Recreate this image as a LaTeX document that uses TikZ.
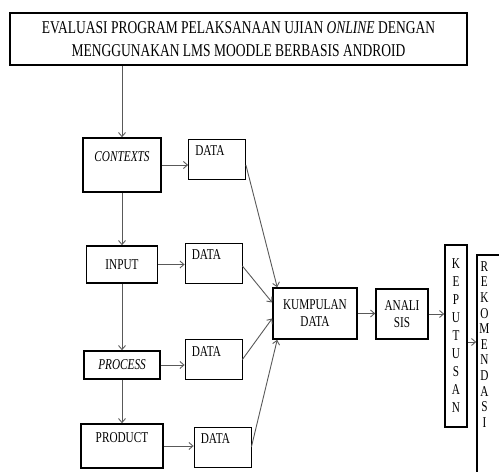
\documentclass[tikz,border=0pt]{standalone}
\usepackage{fontspec}
\setmainfont[FakeStretch=0.75]{Liberation Serif}
\usetikzlibrary{arrows.meta}

\begin{document}
\begin{tikzpicture}[x=1pt,y=-1pt,
    every node/.style={font=\fontsize{15}{17}\selectfont},
    mainbox/.style={draw,line width=1.6pt,inner sep=0pt},
    databox/.style={draw,line width=0.8pt,minimum width=57,minimum height=40,inner sep=0pt,
      label={[anchor=north west,inner sep=0pt,xshift=7,yshift=-7]north west:DATA}},
    arr/.style={draw=black!65,line width=0.9pt,-{Straight Barb[length=4pt,width=7pt]}}]
  \useasboundingbox (0,0) rectangle (499,472);
  \clip (0,0) rectangle (499,472);

  % judul
  \node[mainbox,minimum width=457,minimum height=52,align=center,font=\fontsize{18}{23}\selectfont] (judul) at (238.5,39)
    {EVALUASI PROGRAM PELAKSANAAN UJIAN \textit{ONLINE} DENGAN\\MENGGUNAKAN LMS MOODLE BERBASIS ANDROID};

  % komponen CIPP
  \node[mainbox,minimum width=78,minimum height=54,label={[anchor=north,inner sep=0pt,yshift=-14]north:\textit{CONTEXTS}}] (contexts) at (122,165) {};
  \node[mainbox,minimum width=71,minimum height=37] (input) at (122,264.5) {INPUT};
  \node[mainbox,minimum width=76,minimum height=28] (process) at (122,365) {\textit{PROCESS}};
  \node[mainbox,minimum width=82,minimum height=44,label={[anchor=north,inner sep=0pt,yshift=-9]north:PRODUCT}] (product) at (122,446) {};

  % data
  \node[databox] (data1) at (217,159) {};
  \node[databox] (data2) at (213.5,263) {};
  \node[databox] (data3) at (213.5,359.5) {};
  \node[databox] (data4) at (222.5,447) {};

  % analisis
  \node[mainbox,minimum width=84,minimum height=51,align=center] (kumpulan) at (315,313.5) {KUMPULAN\\DATA};
  \node[mainbox,minimum width=52,minimum height=50,align=center] (analisis) at (402,314) {ANALI\\SIS};
  \node[mainbox,minimum width=22,minimum height=182,align=center,font=\fontsize{15}{18}\selectfont] (keputusan) at (456,336)
    {K\\E\\P\\U\\T\\U\\S\\A\\N};
  \node[mainbox,minimum width=43,minimum height=265,
    label={[anchor=north west,inner sep=0pt,xshift=3,yshift=-7,align=center,font=\fontsize{15}{15.6}\selectfont]north west:R\\E\\K\\O\\M\\E\\N\\D\\A\\S\\I}] (rekomendasi) at (498.5,387.5) {};

  % panah
  \draw[arr] (judul.south -| contexts.north) -- (contexts.north);
  \draw[arr] (contexts.south) -- (input.north);
  \draw[arr] (input.south) -- (process.north);
  \draw[arr] (process.south) -- (product.north);

  \draw[arr] (contexts.east) -- (contexts.east -| data1.west);
  \draw[arr] (input.east) -- (input.east -| data2.west);
  \draw[arr] (process.east) -- (process.east -| data3.west);
  \draw[arr] (product.east) -- (product.east -| data4.west);

  \draw[arr] ([yshift=-6]data1.east) -- ([xshift=5]kumpulan.north west);
  \draw[arr] ([yshift=-3]data2.east) -- ([yshift=11]kumpulan.west);
  \draw[arr] (data3.east) -- ([yshift=-5]kumpulan.west);
  \draw[arr] (data4.east) -- ([xshift=5]kumpulan.south west);

  \draw[arr] (kumpulan.east) -- (kumpulan.east -| analisis.west);
  \draw[arr] (analisis.east) -- (analisis.east -| keputusan.west);
  \draw[arr] ([yshift=-6]keputusan.east) -- ([yshift=-6]keputusan.east -| rekomendasi.west);
\end{tikzpicture}
\end{document}
